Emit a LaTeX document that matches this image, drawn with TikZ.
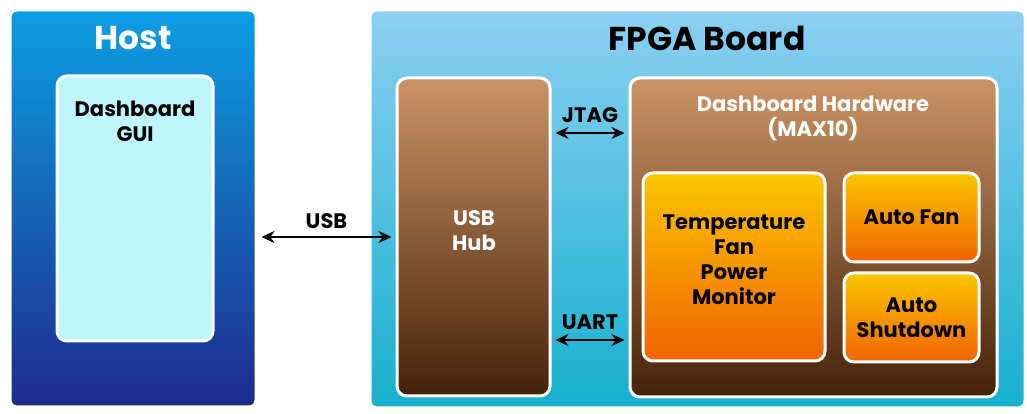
\documentclass[tikz,border=0pt]{standalone}
\usepackage{fontspec}
\setmainfont{Poppins}
\usepackage{tikz}
\usetikzlibrary{arrows.meta,calc}
\definecolor{hosttop}{RGB}{12,158,228}
\definecolor{hostbot}{RGB}{30,42,140}
\definecolor{guifill}{RGB}{190,246,251}
\definecolor{boardtop}{RGB}{140,208,242}
\definecolor{boardbot}{RGB}{22,176,206}
\definecolor{browntop}{RGB}{204,148,102}
\definecolor{brownbot}{RGB}{68,34,10}
\definecolor{orangetop}{RGB}{251,198,0}
\definecolor{orangebot}{RGB}{240,100,0}
\tikzset{
  frame/.style={draw=white, line width=3pt, rounded corners=7pt, inner sep=0pt},
  hostbox/.style={frame, top color=hosttop, bottom color=hostbot},
  boardbox/.style={frame, top color=boardtop, bottom color=boardbot},
  guibox/.style={frame, fill=guifill, rounded corners=10pt},
  brownbox/.style={frame, top color=browntop, bottom color=brownbot, rounded corners=10pt},
  orangebox/.style={frame, top color=orangetop, bottom color=orangebot, rounded corners=10pt,
    align=center, font=\fontsize{21}{25}\selectfont\bfseries},
  title/.style={font=\fontsize{33}{38}\selectfont\bfseries},
  label/.style={font=\fontsize{21}{25}\selectfont\bfseries, align=center},
  link/.style={{Stealth[length=13pt,width=12pt]}-{Stealth[length=13pt,width=12pt]}, line width=2pt, shorten <=4pt, shorten >=4pt}
}
\begin{document}
\begin{tikzpicture}[x=1pt, y=1pt]
  \useasboundingbox (0,0) rectangle (1027,414);
  % host side
  \node[hostbox, minimum width=246pt, minimum height=397pt] (host) at (133,205.5) {};
  \node[title, text=white] (hosttitle) at (133,376) {Host};
  \node[guibox, minimum width=156pt, minimum height=265pt] (gui) at (135,205.5) {};
  \node[label] (guitext) at (135,293) {Dashboard\\GUI};
  % fpga board
  \node[boardbox, minimum width=655pt, minimum height=398pt] (board) at (697.5,205) {};
  \node[title] (boardtitle) at (707,376) {FPGA Board};
  \node[brownbox, minimum width=153pt, minimum height=318pt] (hub) at (473.5,177) {};
  \node[label, text=white] (hubtext) at (474,183.5) {USB\\Hub};
  \node[brownbox, minimum width=367pt, minimum height=319pt] (hw) at (813.5,176.5) {};
  \node[label, text=white] (hwtext) at (813,295.5) {Dashboard Hardware\\(MAX10)};
  \node[orangebox, minimum width=182pt, minimum height=188pt] (monitor) at (734,147) {};
  \node[label] (monitortext) at (734,154.5) {Temperature\\Fan\\Power\\Monitor};
  \node[orangebox, minimum width=135pt, minimum height=89pt] (fan) at (911.5,196.5) {Auto Fan};
  \node[orangebox, minimum width=135pt, minimum height=89pt] (shutdown) at (911.5,96.5) {Auto\\Shutdown};
  % links
  \coordinate (jtag) at (590,281);
  \coordinate (uart) at (590,74);
  \draw[link] (host.east |- hub.west) -- node[label, above=4pt] {USB} (hub.west);
  \draw[link] (hub.east |- jtag) -- node[label, above=6pt] {JTAG} (hw.west |- jtag);
  \draw[link] (hub.east |- uart) -- node[label, above=6pt] {UART} (hw.west |- uart);
\end{tikzpicture}
\end{document}
